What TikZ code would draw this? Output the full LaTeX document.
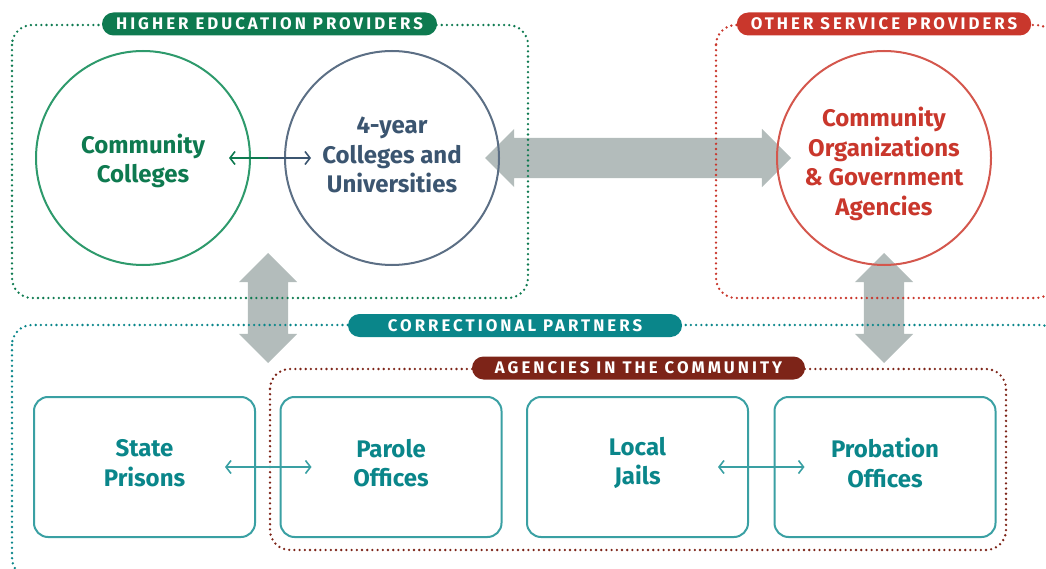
\documentclass[tikz,border=0pt]{standalone}
\usepackage{fontspec}
\setmainfont{Fira Sans}
\usepackage{tikz}
\usetikzlibrary{%
	calc,%
	arrows.meta,%
	shapes.arrows
}

\definecolor{hegreen}{RGB}{14,122,80}
\definecolor{hering}{RGB}{46,154,108}
\definecolor{slate}{RGB}{59,85,112}
\definecolor{slatering}{RGB}{92,111,133}
\definecolor{osred}{RGB}{201,55,44}
\definecolor{osring}{RGB}{212,87,77}
\definecolor{cpteal}{RGB}{10,134,138}
\definecolor{boxteal}{RGB}{58,160,163}
\definecolor{acred}{RGB}{125,36,24}
\definecolor{biggrey}{RGB}{179,188,187}

\begin{document}
\begin{tikzpicture}[x=1pt, y=-1pt,
		groupline/.style={line width=2.6pt, line cap=round, dash pattern=on 0pt off 5.2pt, rounded corners=20pt},
		tag/.style={fill=#1, text=white, rounded corners=11.5pt, minimum height=23pt, inner ysep=0pt, inner xsep=14pt,
			font=\fontsize{16.8}{17}\selectfont\bfseries\addfontfeatures{LetterSpace=18}},
		ring/.style={circle, draw=#1, line width=2pt, minimum size=214pt},
		partner/.style={draw=boxteal, line width=2pt, rounded corners=14pt, minimum width=221pt,
			minimum height=140pt},
		bigtext/.style={align=center, font=\fontsize{24}{29.5}\selectfont\bfseries},
		bigarrow/.style={double arrow, fill=biggrey, inner sep=0pt, inner ysep=20pt,
			double arrow head extend=9pt, double arrow tip angle=90},
		thinarrow/.style={line width=1.6pt, >={Straight Barb[length=5pt, width=13pt]}}
	]
	\useasboundingbox (0,0) rectangle (1046,569);
	
	% Draw the big grey arrows first
	\node[bigarrow, minimum height=306pt] (linkh) at (638,158) {};
	\node[bigarrow, minimum height=110pt, rotate=90] (linkl) at (268,308) {};
	\node[bigarrow, minimum height=110pt, rotate=90] (linkr) at (884,308) {};
	
	% Draw the dotted group frames
	\draw[groupline, hegreen] (12,25) rectangle (528,298);
	\draw[groupline, osred] (716,25) rectangle (1056,298);
	\draw[groupline, cpteal] (12,325) rectangle (1060,578);
	\draw[groupline, acred] (270,369) rectangle (1006,550);
	
	% Draw the group labels over the frames
	\node[tag=hegreen, minimum width=335pt] (hetag) at (269.5,24) {HIGHER EDUCATION PROVIDERS};
	\node[tag=osred, minimum width=292pt] (ostag) at (884,24) {OTHER SERVICE PROVIDERS};
	\node[tag=cpteal, minimum width=334pt] (cptag) at (515,325.5) {CORRECTIONAL PARTNERS};
	\node[tag=acred, minimum width=333pt] (actag) at (638.5,368) {AGENCIES IN THE COMMUNITY};
	
	% Draw the three circles and their names
	\node[ring=hering] (cc) at (143,158) {};
	\node[ring=slatering] (four) at (392,158) {};
	\node[ring=osring] (org) at (884,158) {};
	\node[bigtext, text=hegreen] (cctext) at ($(cc)+(0,3)$) {Community\\Colleges};
	\node[bigtext, text=slate] (fourtext) at ($(four)+(0,-3)$) {4-year\\Colleges and\\Universities};
	\node[bigtext, text=osred] (orgtext) at ($(org)+(0,6)$) {Community\\Organizations\\\& Government\\Agencies};
	
	% Draw the four partner boxes
	\foreach \name/\x/\label in {prison/144.5/{State\\Prisons}, parole/391/{Parole\\Offices},
		jail/637.5/{Local\\Jails}, probation/885/{Probation\\Offices}} {
		\node[partner] (\name) at (\x,467) {};
		\node[bigtext, text=cpteal] (\name text) at ($(\name)+(0,-4)$) {\label};
	}
	
	% Draw the thin arrows between neighbours
	\coordinate (hemid) at ($(cc.east)!0.5!(four.west)$);
	\draw[thinarrow, hegreen, <-, shorten <=-22pt] (cc.east) -- (hemid);
	\draw[thinarrow, slate, ->, shorten >=-27pt] (hemid) -- (four.west);
	\draw[thinarrow, boxteal, <->, shorten <=-31pt, shorten >=-32pt] (prison.east) -- (parole.west);
	\draw[thinarrow, boxteal, <->, shorten <=-31pt, shorten >=-31pt] (jail.east) -- (probation.west);
\end{tikzpicture}
\end{document}
